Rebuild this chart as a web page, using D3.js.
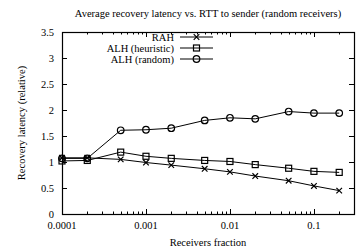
<!DOCTYPE html>
<html>
<head>
<meta charset="utf-8">
<script src="https://cdn.jsdelivr.net/npm/d3@7"></script>
<style>
    body { margin: 0; background: #fff; }
    svg text { font-family: "Liberation Serif", "DejaVu Serif", serif; fill: #000; }
</style>
</head>
<body>
<div id="chart"></div>
<script>
(function () {
    'use strict';

    // receivers fraction (x) and the three series (y)
    var fractions = [0.0001, 0.0002, 0.0005, 0.001, 0.002, 0.005, 0.01, 0.02, 0.05, 0.1, 0.2];
    var rah = [1.08, 1.08, 1.05, 0.99, 0.94, 0.87, 0.81, 0.73, 0.64, 0.54, 0.45];
    var alhHeuristic = [1.02, 1.03, 1.19, 1.11, 1.07, 1.03, 1.01, 0.95, 0.88, 0.82, 0.80];
    var alhRandom = [1.07, 1.07, 1.61, 1.62, 1.65, 1.80, 1.85, 1.83, 1.97, 1.94, 1.94];

    var seriesNames = ['RAH', 'ALH (heuristic)', 'ALH (random)'];
    var seriesMarks = ['cross', 'square', 'circle'];
    var xTickValues = [0.0001, 0.001, 0.01, 0.1];
    var xTickLabels = ['0.0001', '0.001', '0.01', '0.1'];
    var yTickValues = [0, 0.5, 1, 1.5, 2, 2.5, 3, 3.5];

    var W = 357, H = 251;
    var margin = {top: 32, right: 3, bottom: 37, left: 62};
    var iw = W - margin.left - margin.right,
        ih = H - margin.top - margin.bottom;

    var svg = d3.select('#chart').append('svg')
        .attr('width', W)
        .attr('height', H);

    var x = d3.scaleLog().domain([0.0001, 0.3]).range([0, iw]);
    var y = d3.scaleLinear().domain([0, 3.5]).range([ih, 0]);

    var g = svg.append('g')
        .attr('transform', 'translate(' + margin.left + ',' + margin.top + ')');

    // minor log ticks (inside, bottom and top)
    var minor = [];
    for (var e = -4; e <= -1; e++) {
        for (var m = 2; m <= 9; m++) {
            var v = m * Math.pow(10, e);
            if (v <= 0.3) minor.push(v);
        }
    }

    function tickLines(vals, scale, len, side) {
        vals.forEach(function (v) {
            var p = Math.round(scale(v)) + 0.5;
            if (side === 'bottom') g.append('line').attr('x1', p).attr('x2', p).attr('y1', ih).attr('y2', ih - len);
            if (side === 'top') g.append('line').attr('x1', p).attr('x2', p).attr('y1', 0).attr('y2', len);
            if (side === 'left') g.append('line').attr('x1', 0).attr('x2', len).attr('y1', p).attr('y2', p);
            if (side === 'right') g.append('line').attr('x1', iw).attr('x2', iw - len).attr('y1', p).attr('y2', p);
        });
    }

    tickLines(minor, x, 2.5, 'bottom');
    tickLines(minor, x, 2.5, 'top');
    tickLines(xTickValues, x, 5, 'bottom');
    tickLines(xTickValues, x, 5, 'top');
    tickLines(yTickValues.slice(1, -1), y, 5, 'left');
    tickLines(yTickValues.slice(1, -1), y, 5, 'right');
    g.selectAll('line').attr('stroke', '#000').attr('stroke-width', 1);

    g.append('rect')
        .attr('x', 0.5).attr('y', 0.5)
        .attr('width', iw).attr('height', ih)
        .attr('fill', 'none')
        .attr('stroke', '#000')
        .attr('stroke-width', 1.2);

    // tick labels
    g.selectAll('.xlab')
        .data(xTickValues)
        .enter().append('text')
        .attr('class', 'xlab')
        .attr('x', function (d) { return x(d); })
        .attr('y', ih + 15)
        .attr('text-anchor', 'middle')
        .attr('font-size', 10.5)
        .text(function (d, i) { return xTickLabels[i]; });

    g.selectAll('.ylab')
        .data(yTickValues)
        .enter().append('text')
        .attr('class', 'ylab')
        .attr('x', -8)
        .attr('y', function (d) { return y(d) + 3.5; })
        .attr('text-anchor', 'end')
        .attr('font-size', 10.5)
        .text(function (d) { return d; });

    // titles
    svg.append('text')
        .attr('x', margin.left + iw / 2)
        .attr('y', 17)
        .attr('text-anchor', 'middle')
        .attr('font-size', 10.5)
        .text('Average recovery latency vs. RTT to sender (random receivers)');

    svg.append('text')
        .attr('x', margin.left + iw / 2)
        .attr('y', H - 5)
        .attr('text-anchor', 'middle')
        .attr('font-size', 10.5)
        .text('Receivers fraction');

    svg.append('text')
        .attr('transform', 'translate(25,' + (margin.top + ih / 2) + ') rotate(-90)')
        .attr('text-anchor', 'middle')
        .attr('font-size', 10.5)
        .text('Recovery latency (relative)');

    function drawMark(sel, kind) {
        if (kind === 'cross') {
            sel.append('path').attr('d', 'M-2.8,-2.8L2.8,2.8M-2.8,2.8L2.8,-2.8')
                .attr('stroke', '#000').attr('stroke-width', 1.2).attr('fill', 'none');
        } else if (kind === 'square') {
            sel.append('rect').attr('x', -3).attr('y', -3).attr('width', 6).attr('height', 6)
                .attr('stroke', '#000').attr('stroke-width', 1.2).attr('fill', 'none');
        } else {
            sel.append('circle').attr('r', 3.3)
                .attr('stroke', '#000').attr('stroke-width', 1.2).attr('fill', 'none');
        }
    }

    var line = d3.line()
        .x(function (d) { return x(d[0]); })
        .y(function (d) { return y(d[1]); });

    [rah, alhHeuristic, alhRandom].forEach(function (vals, si) {
        var pts = fractions.map(function (f, i) { return [f, vals[i]]; });
        g.append('path')
            .datum(pts)
            .attr('d', line)
            .attr('fill', 'none')
            .attr('stroke', '#000')
            .attr('stroke-width', 1);
        pts.forEach(function (p) {
            var mk = g.append('g')
                .attr('transform', 'translate(' + x(p[0]) + ',' + y(p[1]) + ')');
            drawMark(mk, seriesMarks[si]);
        });
    });

    // legend
    var lg = svg.append('g');
    seriesNames.forEach(function (name, i) {
        var ly = 37 + i * 11;
        lg.append('text')
            .attr('x', 174)
            .attr('y', ly + 3.5)
            .attr('text-anchor', 'end')
            .attr('font-size', 10.5)
            .text(name);
        lg.append('line')
            .attr('x1', 180).attr('x2', 213)
            .attr('y1', ly).attr('y2', ly)
            .attr('stroke', '#000').attr('stroke-width', 1);
        var mk = lg.append('g').attr('transform', 'translate(196.5,' + ly + ')');
        drawMark(mk, seriesMarks[i]);
    });
}());
</script>
</body>
</html>
